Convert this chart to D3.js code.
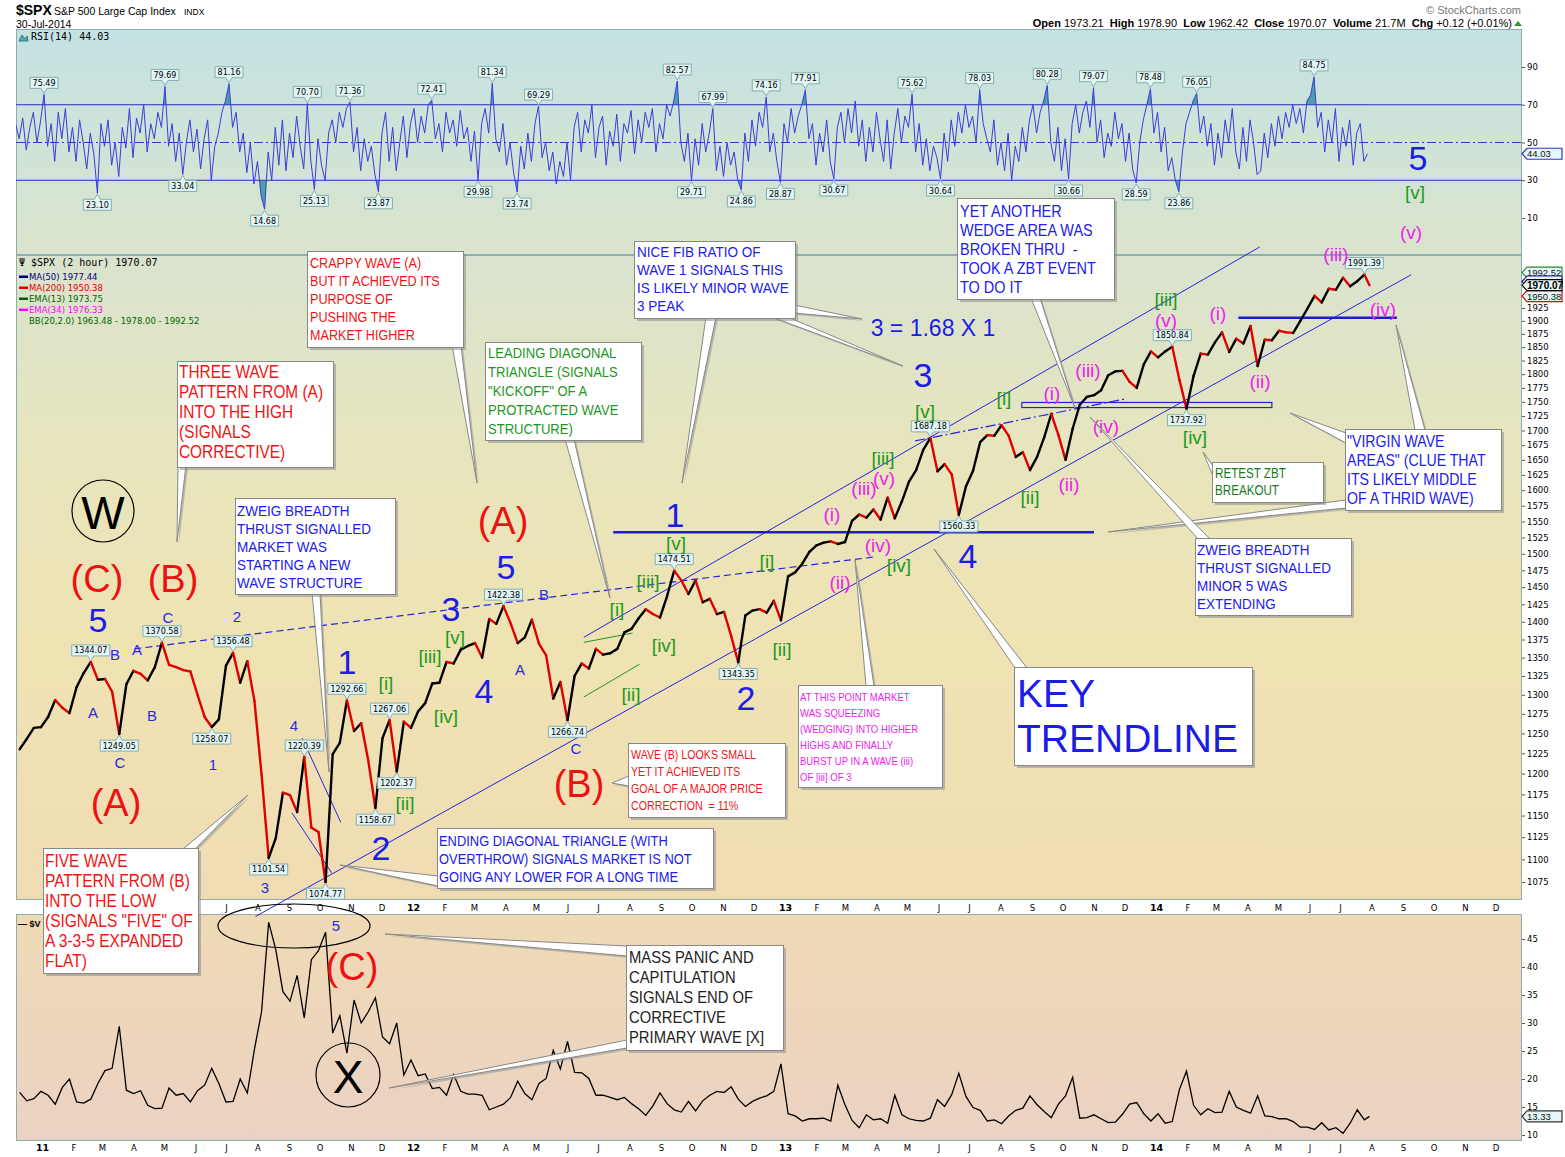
<!DOCTYPE html>
<html>
<head>
<meta charset="utf-8">
<title>$SPX S&amp;P 500 Large Cap Index</title>
<script src="https://cdnjs.cloudflare.com/ajax/libs/d3/7.8.5/d3.min.js"></script>
<style>
  body { margin: 0; background: #fff; }
</style>
</head>
<body>
<div id="container"></div>
<script>
// ---------- data ----------
var priceStart = "2010-12-10";   // weekly closes, one per Friday
var lastDate = "2014-07-30";
var priceCloses = [
  1230, 1243, 1257, 1258,
  1271, 1293, 1283, 1276,  1310, 1329, 1344.07, 1320,  1321, 1304, 1249.05, 1314,
  1332, 1328, 1319, 1337, 1370.58,  1340, 1337, 1333, 1331,  1300, 1271, 1258.07, 1268,
  1339, 1356.48, 1316, 1345, 1292,  1199, 1101.54, 1124, 1177,  1174, 1154, 1220.39, 1136, 1131,
  1074.77, 1224, 1238, 1292.66,  1253, 1263, 1216, 1158.67,  1244, 1267.06, 1202.37, 1265, 1257,
  1278, 1289, 1315, 1316,  1344, 1342, 1361, 1366,  1370, 1350, 1404, 1397, 1422.38,
  1398, 1370, 1378, 1403,  1369, 1353, 1295, 1317,  1266.74, 1325, 1342, 1335, 1362,
  1354, 1356, 1362, 1385,  1390, 1405, 1418, 1411, 1406,  1437, 1474.51, 1460, 1440,
  1460, 1428, 1433, 1411,  1414, 1380, 1343.35, 1409, 1416,  1418, 1413, 1430, 1402,
  1466, 1472, 1485, 1503,  1513, 1517, 1519, 1515,  1518, 1551, 1561, 1556, 1569,
  1553, 1588, 1555, 1582,  1614, 1633, 1667, 1687.18, 1631,  1643, 1626, 1560.33, 1606,
  1632, 1680, 1692, 1691,  1709, 1691, 1655, 1663, 1633,  1655, 1688, 1729, 1692,
  1650, 1703, 1745, 1759,  1762, 1771, 1798, 1805, 1806,  1786, 1775, 1818, 1842,
  1831, 1842, 1850.84, 1790, 1737.92,  1797, 1838, 1836, 1859,  1878, 1841, 1866, 1857,
  1890, 1815, 1864, 1863,  1881, 1878, 1877, 1900, 1924,  1949, 1936, 1963, 1961,
  1985, 1968, 1978, 1991.39,
  1970.07
];
var priceTags = [1344.07, 1249.05, 1370.58, 1258.07, 1356.48, 1101.54, 1220.39, 1074.77, 1292.66,
  1158.67, 1267.06, 1202.37, 1422.38, 1266.74, 1474.51, 1343.35, 1687.18, 1560.33, 1850.84, 1737.92, 1991.39];

var vixCloses = [   // same Fridays as the price
  17.6, 16.1, 16.5, 17.8,
  17.1, 15.5, 18.5, 20.0,  15.9, 15.7, 16.4, 19.2,  21.5, 21.9, 29.4, 18.0,
  17.4, 17.9, 15.3, 14.7, 14.8,  18.4, 17.1, 17.4, 15.9,  17.9, 18.9, 21.9, 19.2,
  15.9, 16.0, 20.0, 17.5, 25.3,  32.0, 48.0, 43.1, 35.6,  33.9, 38.5, 30.9, 41.3, 42.9,
  46.2, 28.2, 31.3, 24.6,  34.1, 30.0, 32.0, 34.5,  27.5, 26.3, 30.0, 20.7, 23.4,
  20.6, 20.9, 18.3, 18.5,  17.1, 20.8, 17.8, 17.3,  17.3, 17.1, 14.5, 15.0, 15.5,
  16.7, 19.6, 17.4, 16.3,  19.2, 20.1, 25.1, 21.8,  26.7, 21.2, 21.1, 20.1, 17.1,
  17.1, 16.7, 16.3, 16.7,  15.6, 14.7, 13.5, 15.2, 17.5,  15.6, 14.5, 14.1, 16.0,
  14.3, 16.1, 17.1, 17.8,  17.6, 18.6, 16.4, 15.1, 16.0,  16.6, 17.0, 17.8, 22.7,
  13.8, 13.4, 12.5, 12.9,  12.9, 13.0, 12.5, 18.9,  15.4, 12.6, 11.3, 13.6, 12.7,
  12.9, 12.1, 17.1, 13.6,  12.9, 12.6, 12.5, 13.0, 16.3,  15.1, 17.2, 21.0, 16.9,
  14.9, 14.4, 12.5, 12.7,  12.0, 13.4, 14.4, 14.8, 17.0,  15.4, 14.2, 13.1, 15.5,
  17.0, 20.3, 13.0, 13.1,  13.6, 12.9, 12.2, 12.3, 13.7,  15.5, 15.8, 13.8, 12.5,
  13.8, 12.1, 12.4, 18.1, 21.4,  15.3, 13.6, 14.7, 14.0,  14.1, 17.8, 15.0, 14.4,
  13.9, 17.0, 13.4, 13.3,  12.9, 12.9, 12.4, 11.4, 11.4,  11.0, 12.2, 10.9, 11.3,
  10.3, 12.1, 14.5, 12.7,
  13.33
];

var rsiStart = "2010-12-06";   // one RSI(14) reading every 3.5 days
var rsiValues = [
  60, 52, 63, 46, 58, 66, 50, 61, 75.49, 48,
  60, 40, 66, 52, 68, 45, 58, 40, 62, 50,
  36, 55, 44, 23.10, 60, 48, 62, 38, 50, 32,
  58, 47, 68, 42, 63, 55, 70, 45, 60, 52,
  66, 58, 79.69, 48, 60, 40, 55, 33.04, 50, 62,
  45, 57, 36, 52, 62, 30, 48, 55, 66, 72,
  81.16, 58, 66, 45, 55, 34, 50, 28, 40, 22,
  14.68, 45, 30, 58, 38, 62, 35, 55, 42, 64,
  48, 36, 70.70, 40, 25.13, 52, 38, 30, 55, 62,
  50, 66, 58, 68, 71.36, 45, 58, 35, 52, 40,
  48, 33, 23.87, 55, 66, 40, 58, 35, 50, 64,
  42, 60, 68, 50, 64, 55, 70, 72.41, 52, 60,
  45, 66, 55, 62, 48, 67, 52, 58, 40, 56,
  29.98, 60, 68, 55, 81.34, 52, 45, 60, 38, 50,
  34, 23.74, 48, 36, 55, 40, 60, 69.29, 42, 50,
  35, 45, 28, 40, 32, 50, 30, 58, 66, 45,
  62, 55, 70, 42, 58, 64, 38, 56, 48, 65,
  40, 60, 55, 67, 44, 62, 50, 66, 58, 68,
  45, 60, 52, 70, 64, 72, 82.57, 50, 40, 55,
  29.71, 52, 38, 60, 45, 55, 67.99, 35, 48, 32,
  50, 38, 45, 30, 24.86, 55, 40, 62, 48, 66,
  58, 74.16, 45, 55, 40, 28.87, 60, 50, 68, 55,
  64, 70, 77.91, 52, 60, 38, 55, 45, 62, 40,
  30.67, 58, 66, 50, 68, 55, 72, 48, 62, 40,
  58, 45, 66, 52, 40, 62, 36, 55, 68, 50,
  64, 58, 75.62, 45, 60, 38, 52, 35, 48, 42,
  30.64, 55, 40, 62, 48, 66, 55, 70, 58, 64,
  50, 78.03, 60, 52, 45, 62, 38, 50, 35, 55,
  30, 48, 40, 58, 45, 62, 70, 55, 66, 72,
  80.28, 50, 40, 58, 35, 52, 30.66, 60, 70, 55,
  66, 72, 58, 79.07, 50, 62, 42, 55, 48, 66,
  52, 60, 40, 55, 36, 28.59, 50, 62, 70, 78.48,
  55, 66, 45, 58, 35, 42, 30, 23.86, 45, 60,
  66, 72, 76.05, 55, 64, 48, 60, 38, 55, 42,
  62, 50, 68, 45, 36, 58, 40, 62, 50, 33,
  35, 55, 42, 60, 48, 64, 52, 66, 58, 70,
  60, 68, 55, 72, 75, 84.75, 58, 66, 45, 62,
  50, 68, 40, 58, 48, 62, 38, 55, 60, 40, 44.03
];
var rsiTags = [75.49, 23.10, 79.69, 33.04, 81.16, 14.68, 70.70, 25.13, 71.36, 23.87, 72.41, 29.98,
  81.34, 23.74, 69.29, 82.57, 29.71, 67.99, 24.86, 74.16, 28.87, 77.91, 30.67, 75.62, 30.64, 78.03,
  80.28, 30.66, 79.07, 28.59, 78.48, 23.86, 76.05, 84.75];

var overlayNames = ["MA(50)", "MA(200)", "EMA(13)", "EMA(34)"];
var overlayValues = [1977.44, 1950.38, 1973.75, 1976.33];
var bbValues = [1963.48, 1978.00, 1992.52];

var rsiTicks = [10, 30, 50, 70, 90];
var priceTicks = [1075, 1100, 1125, 1150, 1175, 1200, 1225, 1250, 1275, 1300, 1325, 1350, 1375, 1400,
  1425, 1450, 1475, 1500, 1525, 1550, 1575, 1600, 1625, 1650, 1675, 1700, 1725, 1750, 1775, 1800,
  1825, 1850, 1875, 1900, 1925];
var vixTicks = [10, 15, 20, 25, 30, 35, 40, 45];

// trend lines drawn by the analyst, as [date, price] pairs
var trendLines = [
  {p: [["2011-04-02", 1362], ["2013-03-29", 1495]], dash: "7,4", w: 1.2, c: "#2424e0"},
  {p: [["2012-06-17", 1378], ["2014-04-13", 2048]], w: 1, c: "#2424e0"},
  {p: [["2011-07-30", 1038], ["2014-09-09", 1991]], w: 1, c: "#2424e0"},
  {p: [["2013-05-09", 1682], ["2013-12-01", 1755]], dash: "10,3,2,3", w: 1.2, c: "#2424e0"},
  {p: [["2012-07-16", 1533], ["2013-11-01", 1533]], w: 2.5, c: "#1c1cd8"},
  {p: [["2014-03-23", 1906], ["2014-08-26", 1906]], w: 2.5, c: "#1c1cd8"},
  {p: [["2011-09-14", 1244], ["2011-10-22", 1142]], w: 1, c: "#2424e0"},
  {p: [["2011-09-04", 1153], ["2011-10-13", 1085]], w: 1, c: "#2424e0"},
  {p: [["2012-06-17", 1371], ["2012-08-04", 1384]], w: 1, c: "#1f9a1f"},
  {p: [["2012-06-17", 1297], ["2012-08-11", 1341]], w: 1, c: "#1f9a1f"}
];
var zbtZone = [["2013-08-22", 1749], ["2014-04-25", 1740]];

// ---------- layout ----------
var W = 1565, H = 1157, L = 16, R = 1522;
var rsiTop = 29, mainTop = 255, mainBot = 900, vixTop = 914, vixBot = 1141;

var parse = d3.timeParse("%Y-%m-%d");
var x = d3.scaleTime().domain([parse("2011-01-01"), parse("2015-01-01")]).range([42, 1527]);
var yP = d3.scaleLog().domain([1075, 1925]).range([882, 308]);
var yR = d3.scaleLinear().domain([10, 90]).range([218, 67]);
var yV = d3.scaleLinear().domain([10, 45]).range([1135, 939]);

var svg = d3.select("#container").append("svg")
  .attr("width", W).attr("height", H)
  .attr("font-family", "Liberation Sans, Arial, sans-serif");
var defs = svg.append("defs");

function grad(id, stops) {
  var g = defs.append("linearGradient").attr("id", id)
    .attr("x1", 0).attr("y1", 0).attr("x2", 0).attr("y2", 1);
  stops.forEach(function(s) { g.append("stop").attr("offset", s[0]).attr("stop-color", s[1]); });
}
grad("gRsi", [[0, "#c4e2e3"], [1, "#dbe4cc"]]);
grad("gMain", [[0, "#d9e3cf"], [0.3, "#e7e5bd"], [0.6, "#efe3b3"], [1, "#f0dcb3"]]);
grad("gVix", [[0, "#efdab5"], [1, "#ebd2c3"]]);

function clip(id, y0, y1) {
  defs.append("clipPath").attr("id", id).append("rect")
    .attr("x", L).attr("y", y0).attr("width", R - L).attr("height", y1 - y0);
}
clip("cRsi", rsiTop, mainTop);
clip("cMain", mainTop, mainBot);
clip("cVix", vixTop, vixBot);
clip("cOver", rsiTop, yR(70));
clip("cUnder", yR(30), mainTop);

// panels
svg.append("rect").attr("x", L).attr("y", rsiTop).attr("width", R - L).attr("height", mainTop - rsiTop)
  .attr("fill", "url(#gRsi)");
svg.append("rect").attr("x", L).attr("y", mainTop).attr("width", R - L).attr("height", mainBot - mainTop)
  .attr("fill", "url(#gMain)");
svg.append("rect").attr("x", L).attr("y", vixTop).attr("width", R - L).attr("height", vixBot - vixTop)
  .attr("fill", "url(#gVix)");
[[rsiTop, mainTop], [mainTop, mainBot], [vixTop, vixBot]].forEach(function(p) {
  svg.append("rect").attr("x", L + 0.5).attr("y", p[0] + 0.5).attr("width", R - L - 1).attr("height", p[1] - p[0] - 1)
    .attr("fill", "none").attr("stroke", "#8eaeae");
});

// ---------- header ----------
svg.append("text").attr("x", 16).attr("y", 15).attr("font-size", 14).attr("font-weight", "bold").text("$SPX");
svg.append("text").attr("x", 54).attr("y", 15).attr("font-size", 10.5).text("S&P 500 Large Cap Index");
svg.append("text").attr("x", 184).attr("y", 15).attr("font-size", 8.5).text("INDX");
svg.append("text").attr("x", 16).attr("y", 27.5).attr("font-size", 10.5).text("30-Jul-2014");
svg.append("text").attr("x", 1521).attr("y", 14).attr("font-size", 11).attr("fill", "#777")
  .attr("text-anchor", "end").text("\u00a9 StockCharts.com");
var hdr = svg.append("text").attr("x", 1512).attr("y", 27).attr("font-size", 11).attr("text-anchor", "end");
[["Open", 1], [" 1973.21  ", 0], ["High", 1], [" 1978.90  ", 0], ["Low", 1], [" 1962.42  ", 0],
 ["Close", 1], [" 1970.07  ", 0], ["Volume", 1], [" 21.7M  ", 0], ["Chg", 1], [" +0.12 (+0.01%)", 0]]
  .forEach(function(s) {
    hdr.append("tspan").attr("font-weight", s[1] ? "bold" : "normal").attr("xml:space", "preserve").text(s[0]);
  });
svg.append("path").attr("d", "M1514,26 L1518,21 L1522,26 Z").attr("fill", "#2a9a2a");

// ---------- RSI ----------
var rsiPts = rsiValues.map(function(v, i) {
  return {d: new Date(+parse(rsiStart) + i * 3.5 * 864e5), v: v};
});
var rg = svg.append("g").attr("clip-path", "url(#cRsi)");
rg.append("path").datum(rsiPts).attr("clip-path", "url(#cOver)").attr("fill", "#4e9ea6")
  .attr("d", d3.area().x(function(d) { return x(d.d); }).y0(yR(70)).y1(function(d) { return yR(d.v); }));
rg.append("path").datum(rsiPts).attr("clip-path", "url(#cUnder)").attr("fill", "#4e9ea6")
  .attr("d", d3.area().x(function(d) { return x(d.d); }).y0(yR(30)).y1(function(d) { return yR(d.v); }));
[70, 30].forEach(function(v) {
  rg.append("line").attr("x1", L).attr("x2", R).attr("y1", yR(v)).attr("y2", yR(v))
    .attr("stroke", "#2c2ccc").attr("stroke-width", 1);
});
rg.append("line").attr("x1", L).attr("x2", R).attr("y1", yR(50)).attr("y2", yR(50))
  .attr("stroke", "#3434d4").attr("stroke-dasharray", "9,3,2,3");
rg.append("path").datum(rsiPts).attr("fill", "none").attr("stroke", "#3b3bdc").attr("stroke-width", 1)
  .attr("d", d3.line().x(function(d) { return x(d.d); }).y(function(d) { return yR(d.v); }));

// RSI legend
svg.append("path").attr("d", "M19,41 L22,35 L25,39 L27,36 L28,41 Z").attr("fill", "#5aa8b0").attr("stroke", "#2c7c88");
svg.append("text").attr("x", 31).attr("y", 40).attr("font-family", "DejaVu Sans Mono").attr("font-size", 10)
  .text("RSI(14) " + rsiValues[rsiValues.length - 1].toFixed(2));

// ---------- price ----------
var pricePts = priceCloses.map(function(v, i) {
  var d = d3.timeDay.offset(parse(priceStart), 7 * i);
  if (d > parse(lastDate)) d = parse(lastDate);
  return {d: d, v: v};
});
var vixPts = vixCloses.map(function(v, i) { return {d: pricePts[i].d, v: v}; });

// trend lines
var tg = svg.append("g");
trendLines.forEach(function(t) {
  tg.append("line")
    .attr("x1", x(parse(t.p[0][0]))).attr("y1", yP(t.p[0][1]))
    .attr("x2", x(parse(t.p[1][0]))).attr("y2", yP(t.p[1][1]))
    .attr("stroke", t.c).attr("stroke-width", t.w).attr("stroke-dasharray", t.dash || null);
});
tg.append("rect")
  .attr("x", x(parse(zbtZone[0][0]))).attr("y", yP(zbtZone[0][1]))
  .attr("width", x(parse(zbtZone[1][0])) - x(parse(zbtZone[0][0])))
  .attr("height", yP(zbtZone[1][1]) - yP(zbtZone[0][1]))
  .attr("fill", "none").attr("stroke", "#2020e0").attr("stroke-width", 1.2);

var pg = svg.append("g").attr("clip-path", "url(#cMain)");
pg.selectAll("line").data(pricePts.slice(1)).enter().append("line")
  .attr("x1", function(d, i) { return x(pricePts[i].d); })
  .attr("y1", function(d, i) { return yP(pricePts[i].v); })
  .attr("x2", function(d) { return x(d.d); })
  .attr("y2", function(d) { return yP(d.v); })
  .attr("stroke", function(d, i) { return d.v >= pricePts[i].v ? "#000" : "#e00000"; })
  .attr("stroke-width", 2.4).attr("stroke-linecap", "round");

// main legend
var lg = svg.append("g");
lg.append("text").attr("x", 19).attr("y", 266).attr("font-family", "DejaVu Sans Mono").attr("font-size", 10)
  .text("\u03a8 $SPX (2 hour) " + priceCloses[priceCloses.length - 1].toFixed(2));
var legCols = ["#000080", "#e00000", "#006400", "#ff00ff"];
overlayNames.forEach(function(n, i) {
  lg.append("rect").attr("x", 19).attr("y", 275.5 + i * 11).attr("width", 9).attr("height", 2.5).attr("fill", legCols[i]);
  lg.append("text").attr("x", 29).attr("y", 280 + i * 11).attr("font-family", "DejaVu Sans").attr("font-size", 8.5)
    .attr("fill", legCols[i]).text(n + " " + overlayValues[i].toFixed(2));
});
lg.append("text").attr("x", 29).attr("y", 324).attr("font-family", "DejaVu Sans").attr("font-size", 8.5)
  .attr("fill", "#006400")
  .text("BB(20,2.0) " + bbValues.map(function(v) { return v.toFixed(2); }).join(" - "));

// ---------- VIX ----------
var vg = svg.append("g").attr("clip-path", "url(#cVix)");
vg.append("path").datum(vixPts).attr("fill", "none").attr("stroke", "#000").attr("stroke-width", 1.3)
  .attr("d", d3.line().x(function(d) { return x(d.d); }).y(function(d) { return yV(d.v); }));
svg.append("text").attr("x", 18).attr("y", 927).attr("font-size", 9).attr("font-weight", "bold").text("\u2014 $V");

// ---------- value tags on peaks / troughs ----------
function peakTag(g, px, py, txt, up) {
  var t = g.append("g");
  var tx = t.append("text").attr("font-family", "DejaVu Sans").attr("font-size", 8)
    .attr("text-anchor", "middle").attr("x", px).text(txt);
  var w = tx.node().getComputedTextLength() + 5, h = 11;
  var by = up ? py - 6 - h : py + 6;
  var d = up
    ? "M" + (px - w / 2) + "," + by + " H" + (px + w / 2) + " V" + (by + h) + " H" + (px + 3) +
      " L" + px + "," + (py - 1) + " L" + (px - 3) + "," + (by + h) + " H" + (px - w / 2) + " Z"
    : "M" + (px - w / 2) + "," + by + " H" + (px - 3) + " L" + px + "," + (py + 1) + " L" + (px + 3) + "," + by +
      " H" + (px + w / 2) + " V" + (by + h) + " H" + (px - w / 2) + " Z";
  t.insert("path", "text").attr("d", d).attr("fill", "#e2f5f5").attr("stroke", "#86aeae");
  tx.attr("y", by + h - 2.5);
}
var tagG = svg.append("g");
rsiTags.forEach(function(v) {
  var i = rsiValues.indexOf(v), p = rsiPts[i];
  var up = v >= rsiValues[i - 1] && v >= rsiValues[i + 1];
  peakTag(tagG, x(p.d), yR(v), v.toFixed(2), up);
});
priceTags.forEach(function(v) {
  var i = priceCloses.indexOf(v), p = pricePts[i];
  var up = v >= priceCloses[i - 1] && v >= priceCloses[i + 1];
  peakTag(tagG, x(p.d), yP(v), v.toFixed(2), up);
});

// ---------- right axes ----------
function rightAxis(scale, ticks) {
  var g = svg.append("g").attr("transform", "translate(" + R + ",0)")
    .call(d3.axisRight(scale).tickValues(ticks).tickSize(3).tickPadding(2).tickFormat(d3.format("d")));
  g.select(".domain").remove();
  g.selectAll("text").attr("font-family", "DejaVu Sans").attr("font-size", 8.5).attr("fill", "#000");
  g.selectAll("line").attr("stroke", "#555");
}
rightAxis(yR, rsiTicks);
rightAxis(yP, priceTicks);
rightAxis(yV, vixTicks);

// last-value flags; the MA(50) flag sits behind the close flag, as in the original
function sideTag(y, txt, col, bold, showText) {
  svg.append("path")
    .attr("d", "M" + R + "," + y + " L" + (R + 5) + "," + (y - 5.5) + " H" + (R + 40) + " V" + (y + 5.5) + " H" + (R + 5) + " Z")
    .attr("fill", "#e6f7f7").attr("stroke", col).attr("stroke-width", 1.2);
  if (showText === false) return;
  svg.append("text").attr("x", R + 5).attr("y", y + 3.5)
    .attr("font-size", bold ? 10 : 9.5).attr("font-weight", bold ? "bold" : "normal")
    .attr("fill", bold ? "#000" : "#111").text(txt);
}
sideTag(yR(rsiValues[rsiValues.length - 1]), rsiValues[rsiValues.length - 1].toFixed(2), "#3333cc", false);
sideTag(yP(bbValues[2]) - 1.5, bbValues[2].toFixed(2), "#2a8a2a", false);
sideTag(yP(overlayValues[0]), overlayValues[0].toFixed(2), "#2222aa", false, false);
sideTag(yP(overlayValues[1]) + 1, overlayValues[1].toFixed(2), "#dd0000", false);
sideTag(yP(priceCloses[priceCloses.length - 1]), priceCloses[priceCloses.length - 1].toFixed(2), "#000", true);
sideTag(yV(vixCloses[vixCloses.length - 1]), vixCloses[vixCloses.length - 1].toFixed(2), "#333", false);

// ---------- month axes ----------
var months = d3.timeMonth.range(parse("2011-01-01"), parse("2015-01-01"));
function monthAxis(yy, ticks) {
  var ax = d3.axisBottom(x).tickValues(ticks).tickSize(0).tickPadding(0)
    .tickFormat(function(d) {
      return d.getMonth() === 0 ? d3.timeFormat("%y")(d) : d3.timeFormat("%b")(d).charAt(0);
    });
  var g = svg.append("g").attr("transform", "translate(0," + yy + ")").call(ax);
  g.select(".domain").remove();
  g.selectAll("text").attr("y", 0).attr("dy", "0.35em").attr("fill", "#000")
    .attr("font-family", "DejaVu Sans")
    .attr("font-size", function(d) { return d.getMonth() === 0 ? 9.5 : 8.5; })
    .attr("font-weight", function(d) { return d.getMonth() === 0 ? "bold" : "normal"; });
}
// the middle row is partly covered by the "FIVE WAVE" note in the original
monthAxis(908, months.filter(function(d) { return x(d) > 205; }));
monthAxis(1148, months);

// ---------- wave labels ----------
var blueBig = [["5", 98, 620], ["1", 347, 662], ["2", 381, 848], ["3", 451, 609], ["4", 484, 691],
  ["5", 506, 567], ["1", 675, 515], ["2", 746, 698], ["3", 923, 375], ["4", 968, 556], ["5", 1418, 158]];
var redBig = [["(C)", 97, 579], ["(B)", 173, 579], ["(A)", 116, 803], ["(A)", 503, 521], ["(B)", 579, 784], ["(C)", 352, 967]];
var blueSmall = [["B", 115, 654], ["A", 137, 649], ["C", 168, 617], ["2", 237, 616], ["A", 93, 712], ["B", 152, 715],
  ["C", 120, 762], ["1", 213, 764], ["4", 294, 725], ["3", 265, 887], ["A", 520, 669], ["B", 544, 594],
  ["C", 576, 748], ["5", 336, 925]];
var greenMarks = [["[i]", 386, 683], ["[iii]", 430, 656], ["[v]", 455, 637], ["[iv]", 446, 716], ["[ii]", 405, 803],
  ["[i]", 617, 609], ["[iii]", 648, 581], ["[v]", 676, 543], ["[iv]", 664, 645], ["[ii]", 631, 694],
  ["[i]", 767, 561], ["[ii]", 782, 649], ["[iii]", 883, 458], ["[v]", 925, 411], ["[iv]", 899, 565],
  ["[i]", 1004, 398], ["[ii]", 1030, 497], ["[iii]", 1166, 299], ["[iv]", 1195, 437], ["[v]", 1415, 192]];
var pinkMarks = [["(i)", 832, 514], ["(ii)", 840, 582], ["(iii)", 864, 488], ["(v)", 884, 478], ["(iv)", 878, 545],
  ["(i)", 1052, 393], ["(iii)", 1088, 370], ["(iv)", 1106, 426], ["(ii)", 1069, 484], ["(v)", 1166, 320],
  ["(i)", 1218, 313], ["(ii)", 1260, 381], ["(iii)", 1336, 254], ["(iv)", 1383, 309], ["(v)", 1411, 232]];

function marks(list, size, col) {
  svg.append("g").selectAll("text").data(list).enter().append("text")
    .attr("x", function(d) { return d[1]; }).attr("y", function(d) { return d[2]; })
    .attr("text-anchor", "middle").attr("dominant-baseline", "central")
    .attr("font-size", size).attr("fill", col).text(function(d) { return d[0]; });
}

// circles and ellipse
svg.append("circle").attr("cx", 103).attr("cy", 511).attr("r", 31).attr("fill", "none").attr("stroke", "#000").attr("stroke-width", 1.2);
svg.append("circle").attr("cx", 348).attr("cy", 1075).attr("r", 32).attr("fill", "none").attr("stroke", "#000").attr("stroke-width", 1.2);
svg.append("ellipse").attr("cx", 294).attr("cy", 926).attr("rx", 76).attr("ry", 22).attr("fill", "none").attr("stroke", "#000").attr("stroke-width", 1.2);
marks([["W", 103, 513], ["X", 348, 1077]], 46, "#000");

marks(blueBig, 34, "#1c1ce8");
marks(redBig, 38, "#ee1111");
marks(blueSmall, 15, "#2a2ae0");
marks(greenMarks, 19, "#1b9a1b");
marks(pinkMarks, 19, "#ee22ee");
marks([["3 = 1.68 X 1", 933, 328]], 23, "#1c1ce8");

// ---------- callout boxes ----------
var pointers = [
  [[452, 345], [461, 345], [477, 483]],
  [[178, 465], [186, 465], [177, 542]],
  [[312, 593], [320, 593], [329, 772]],
  [[183, 849], [195, 849], [248, 795]],
  [[438, 876], [438, 886], [340, 865]],
  [[565, 439], [574, 439], [610, 598]],
  [[706, 317], [716, 317], [682, 483]],
  [[772, 317], [788, 317], [903, 366]],
  [[794, 305], [794, 313], [862, 319]],
  [[1031, 298], [1040, 298], [1075, 408]],
  [[1213, 466], [1213, 476], [1203, 452]],
  [[1346, 433], [1346, 443], [1290, 413]],
  [[1415, 430], [1425, 430], [1396, 325]],
  [[1346, 500], [1346, 508], [1108, 532]],
  [[1198, 539], [1210, 539], [1090, 417]],
  [[866, 686], [874, 686], [855, 560]],
  [[629, 776], [629, 786], [612, 783]],
  [[1015, 668], [1027, 668], [934, 549]],
  [[627, 946], [627, 956], [385, 934]],
  [[627, 1040], [627, 1048], [389, 1088]]
];
var pgG = svg.append("g");
pointers.forEach(function(p) {
  var s = p.map(function(q) { return q.join(","); }).join(" ");
  var s2 = p.map(function(q) { return (q[0] + 2) + "," + (q[1] + 2); }).join(" ");
  pgG.append("polygon").attr("points", s2).attr("fill", "#9a9a9a").attr("opacity", 0.6);
  pgG.append("polygon").attr("points", s).attr("fill", "#fff").attr("stroke", "#888").attr("stroke-width", 1);
});

var notes = [
  {x: 307, y: 251, w: 156, h: 96, tx: 310, ty: 268, lh: 18, fs: 15, sq: 0.84, c: "#f01414",
   lines: ["CRAPPY WAVE (A)", "BUT IT ACHIEVED ITS", "PURPOSE OF", "PUSHING THE", "MARKET HIGHER"]},
  {x: 177, y: 361, w: 156, h: 106, tx: 179, ty: 378, lh: 20, fs: 17.5, sq: 0.88, c: "#f01414",
   lines: ["THREE WAVE", "PATTERN FROM (A)", "INTO THE HIGH", "(SIGNALS", "CORRECTIVE)"]},
  {x: 235, y: 498, w: 160, h: 96, tx: 237, ty: 516, lh: 18, fs: 15, sq: 0.9, c: "#2020ee",
   lines: ["ZWEIG BREADTH", "THRUST SIGNALLED", "MARKET WAS", "STARTING A NEW", "WAVE STRUCTURE"]},
  {x: 43, y: 848, w: 155, h: 125, tx: 45, ty: 867, lh: 20, fs: 17.5, sq: 0.885, c: "#f01414",
   lines: ["FIVE WAVE", "PATTERN FROM (B)", "INTO THE LOW", "(SIGNALS \"FIVE\" OF", "A 3-3-5 EXPANDED", "FLAT)"]},
  {x: 437, y: 828, w: 276, h: 60, tx: 439, ty: 846, lh: 18, fs: 14.5, sq: 0.89, c: "#2020ee",
   lines: ["ENDING DIAGONAL TRIANGLE (WITH", "OVERTHROW) SIGNALS MARKET IS NOT", "GOING ANY LOWER FOR A LONG TIME"]},
  {x: 485, y: 342, w: 156, h: 98, tx: 488, ty: 358, lh: 19, fs: 15, sq: 0.87, c: "#1e961e",
   lines: ["LEADING DIAGONAL", "TRIANGLE (SIGNALS", "\"KICKOFF\" OF A", "PROTRACTED WAVE", "STRUCTURE)"]},
  {x: 634, y: 241, w: 161, h: 77, tx: 637, ty: 257, lh: 18, fs: 15, sq: 0.9, c: "#2020ee",
   lines: ["NICE FIB RATIO OF", "WAVE 1 SIGNALS THIS", "IS LIKELY MINOR WAVE", "3 PEAK"]},
  {x: 957, y: 198, w: 157, h: 101, tx: 960, ty: 217, lh: 19, fs: 16.5, sq: 0.875, c: "#2020ee",
   lines: ["YET ANOTHER", "WEDGE AREA WAS", "BROKEN THRU  -", "TOOK A ZBT EVENT", "TO DO IT"]},
  {x: 1212, y: 462, w: 111, h: 40, tx: 1215, ty: 478, lh: 17, fs: 14, sq: 0.83, c: "#1a7a1a",
   lines: ["RETEST ZBT", "BREAKOUT"]},
  {x: 1345, y: 429, w: 156, h: 81, tx: 1347, ty: 447, lh: 19, fs: 16.5, sq: 0.855, c: "#2020ee",
   lines: ["\"VIRGIN WAVE", "AREAS\" (CLUE THAT", "ITS LIKELY MIDDLE", "OF A THRID WAVE)"]},
  {x: 1195, y: 538, w: 156, h: 77, tx: 1197, ty: 555, lh: 18, fs: 15.5, sq: 0.87, c: "#2020ee",
   lines: ["ZWEIG BREADTH", "THRUST SIGNALLED", "MINOR 5 WAS", "EXTENDING"]},
  {x: 798, y: 685, w: 144, h: 102, tx: 800, ty: 701, lh: 16, fs: 11.5, sq: 0.83, c: "#ee22ee",
   lines: ["AT THIS POINT MARKET", "WAS SQUEEZING", "(WEDGING) INTO HIGHER", "HIGHS AND FINALLY",
           "BURST UP IN A WAVE (iii)", "OF [iii] OF 3"]},
  {x: 628, y: 743, w: 157, h: 74, tx: 631, ty: 759, lh: 17, fs: 13, sq: 0.82, c: "#f01414",
   lines: ["WAVE (B) LOOKS SMALL", "YET IT ACHIEVED ITS", "GOAL OF A MAJOR PRICE", "CORRECTION  = 11%"]},
  {x: 1014, y: 667, w: 238, h: 98, tx: 1017, ty: 707, lh: 45, fs: 39, sq: 1, c: "#1c1ce8",
   lines: ["KEY", "TRENDLINE"]},
  {x: 626, y: 945, w: 157, h: 105, tx: 629, ty: 963, lh: 20, fs: 17, sq: 0.87, c: "#222",
   lines: ["MASS PANIC AND", "CAPITULATION", "SIGNALS END OF", "CORRECTIVE", "PRIMARY WAVE [X]"]}
];
notes.forEach(function(n) {
  var g = svg.append("g");
  g.append("rect").attr("x", n.x + 3).attr("y", n.y + 3).attr("width", n.w).attr("height", n.h)
    .attr("fill", "#8c8c8c").attr("opacity", 0.55);
  g.append("rect").attr("x", n.x + 0.5).attr("y", n.y + 0.5).attr("width", n.w).attr("height", n.h)
    .attr("fill", "#fff").attr("stroke", "#888");
  n.lines.forEach(function(s, i) {
    var t = g.append("text").attr("x", n.tx).attr("y", n.ty + i * n.lh)
      .attr("font-size", n.fs).attr("fill", n.c).attr("xml:space", "preserve").text(s);
    if (n.sq < 1) {
      var len = t.node().getComputedTextLength();
      t.attr("textLength", len * n.sq).attr("lengthAdjust", "spacingAndGlyphs");
    }
  });
});
</script>
</body>
</html>
